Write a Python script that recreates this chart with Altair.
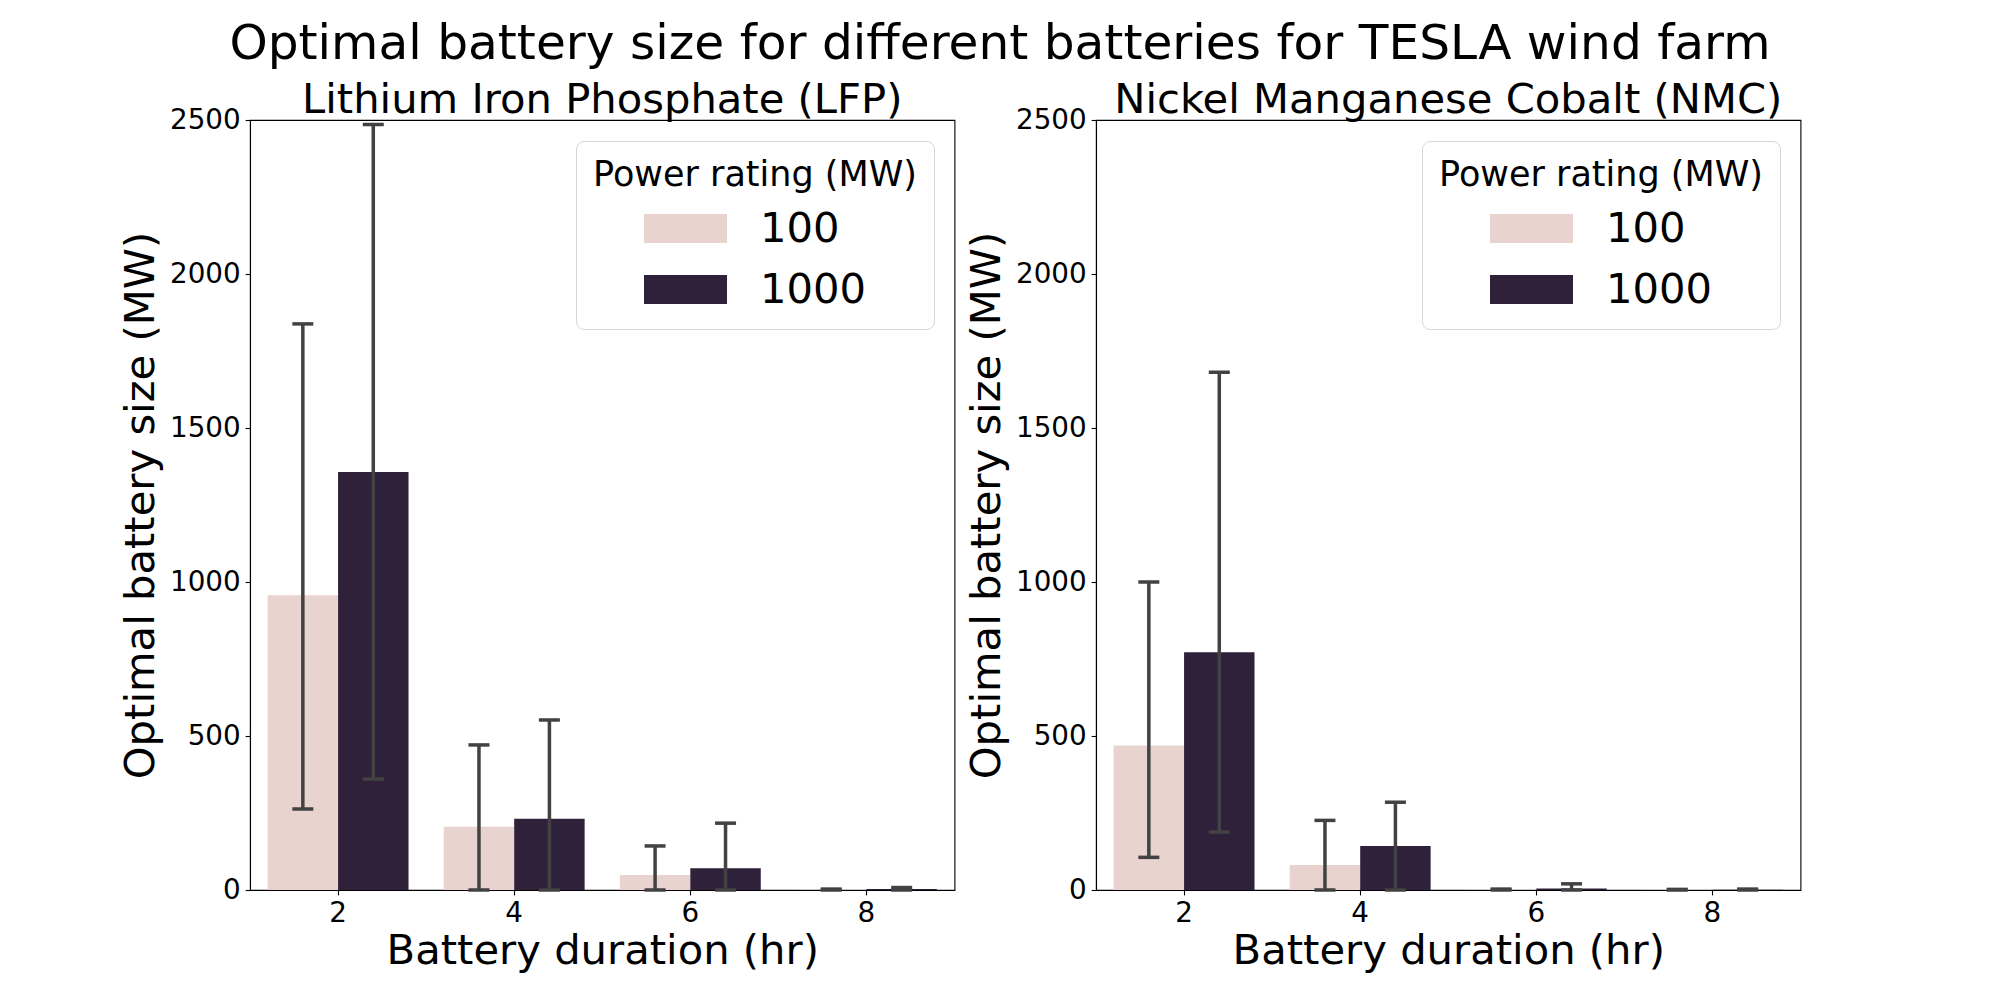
import altair as alt
import pandas as pd

# ---- data ----
durations = ["2", "4", "6", "8"]
powers = ["100", "1000"]

lfp_100_mean = [957, 205, 49, 1]
lfp_100_low = [263, 0, 0, 0]
lfp_100_high = [1838, 471, 143, 3]
lfp_1000_mean = [1357, 231, 71, 3]
lfp_1000_low = [360, 0, 0, 0]
lfp_1000_high = [2485, 552, 217, 8]

nmc_100_mean = [469, 81, 1, 1]
nmc_100_low = [106, 0, 0, 0]
nmc_100_high = [1000, 226, 3, 2]
nmc_1000_mean = [772, 143, 5, 1]
nmc_1000_low = [188, 0, 0, 0]
nmc_1000_high = [1681, 285, 20, 3]

y_ticks = [0, 500, 1000, 1500, 2000, 2500]

suptitle = "Optimal battery size for different batteries for TESLA wind farm"
titles = ["Lithium Iron Phosphate (LFP)", "Nickel Manganese Cobalt (NMC)"]
x_title = "Battery duration (hr)"
y_title = "Optimal battery size (MW)"
legend_title = "Power rating (MW)"
colors = ["#E8D3CF", "#2F213A"]
err_color = "#424242"
FONT = "DejaVu Sans"


def make_df(m100, l100, h100, m1000, l1000, h1000):
    rows = []
    for i, d in enumerate(durations):
        rows.append({"duration": d, "power": "100", "mean": m100[i], "low": l100[i], "high": h100[i]})
        rows.append({"duration": d, "power": "1000", "mean": m1000[i], "low": l1000[i], "high": h1000[i]})
    return pd.DataFrame(rows)


df_lfp = make_df(lfp_100_mean, lfp_100_low, lfp_100_high, lfp_1000_mean, lfp_1000_low, lfp_1000_high)
df_nmc = make_df(nmc_100_mean, nmc_100_low, nmc_100_high, nmc_1000_mean, nmc_1000_low, nmc_1000_high)


def panel(df, title):
    x = alt.X(
        "duration:N",
        sort=durations,
        scale=alt.Scale(paddingInner=0.2, paddingOuter=0.1),
        axis=alt.Axis(title=x_title, labelAngle=0, titleY=73, titleBaseline="alphabetic"),
    )
    xoff = alt.XOffset("power:N", sort=powers, scale=alt.Scale(paddingInner=0, paddingOuter=0))
    yscale = alt.Scale(domain=[0, 2500], nice=False, zero=True)
    yaxis = alt.Axis(title=y_title, values=y_ticks, format="d", titleX=-97, titleBaseline="alphabetic")

    base = alt.Chart(df)
    bars = base.mark_bar().encode(
        x=x,
        xOffset=xoff,
        y=alt.Y("mean:Q", scale=yscale, axis=yaxis),
        color=alt.Color(
            "power:N",
            sort=powers,
            scale=alt.Scale(domain=powers, range=colors),
            legend=alt.Legend(title=legend_title, orient="top-right"),
        ),
    )
    rules = base.mark_rule(color=err_color, strokeWidth=3.5).encode(
        x=x,
        xOffset=xoff,
        y=alt.Y("low:Q", scale=yscale, axis=yaxis),
        y2="high:Q",
    )
    cap_lo = base.mark_tick(color=err_color, size=21, thickness=3.5, opacity=1).encode(
        x=x, xOffset=xoff, y=alt.Y("low:Q", scale=yscale, axis=yaxis)
    )
    cap_hi = base.mark_tick(color=err_color, size=21, thickness=3.5, opacity=1).encode(
        x=x, xOffset=xoff, y=alt.Y("high:Q", scale=yscale, axis=yaxis)
    )
    return alt.layer(bars, rules, cap_lo, cap_hi).properties(
        width=704.5,
        height=770,
        title=alt.TitleParams(title, fontSize=41.7, font=FONT, fontWeight="normal",
                              color="black", offset=1, dy=17, anchor="middle"),
    )


left = panel(df_lfp, titles[0])
right = panel(df_nmc, titles[1])

chart = (
    alt.hconcat(left, right, spacing=141, bounds="flush")
    .resolve_scale(color="independent")
    .resolve_legend(color="independent")
    .properties(
        title=alt.TitleParams(
            suptitle, fontSize=48.6, font=FONT, fontWeight="normal", color="black",
            anchor="start", frame="group", align="center", dx=750, offset=10,
        ),
        autosize=alt.AutoSizeParams(type="none"),
        padding={"left": 242, "top": 112, "right": 1742, "bottom": 872},
    )
    .configure(font=FONT)
    .configure_view(stroke="black", strokeWidth=1.1)
    .configure_axis(
        labelFont=FONT,
        titleFont=FONT,
        labelFontSize=27.8,
        titleFontSize=41.7,
        titleFontWeight="normal",
        labelColor="black",
        titleColor="black",
        domainColor="black",
        domainWidth=1.1,
        tickColor="black",
        tickWidth=1.1,
        tickSize=4.9,
        labelPadding=4.9,
        grid=False,
    )
    .configure_legend(
        offset=21,
        padding=17,
        strokeColor="#d6d6d6",
        strokeWidth=1,
        cornerRadius=8,
        fillColor="white",
        titleFont=FONT,
        titleFontSize=35,
        titleFontWeight="normal",
        titleColor="black",
        titleAnchor="middle",
        titleBaseline="top",
        titlePadding=13,
        titleLimit=1000,
        labelFont=FONT,
        labelFontSize=41.7,
        labelColor="black",
        labelBaseline="middle",
        labelOffset=33,
        labelLimit=1000,
        symbolType="M-1,-0.349H1V0.349H-1Z",
        symbolSize=6889,
        symbolStrokeWidth=0,
        symbolOffset=0,
        symbolOpacity=1,
        clipHeight=45,
        rowPadding=16,
    )
)

chart.save("out.html", embed_options={"renderer": "svg", "actions": False})
